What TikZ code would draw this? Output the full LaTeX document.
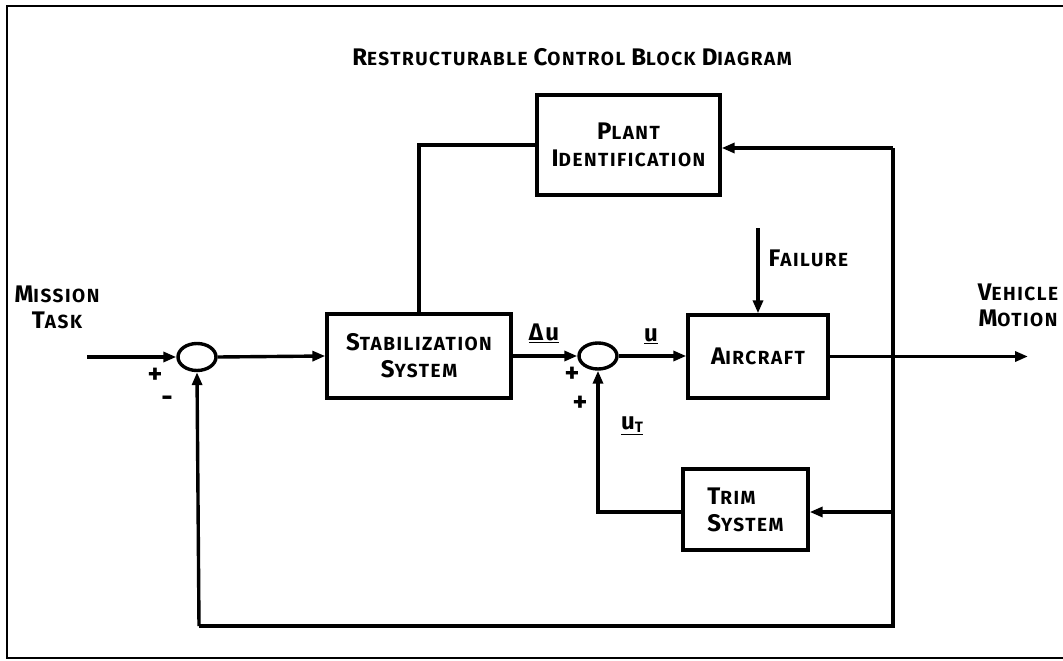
\documentclass[tikz,border=0pt]{standalone}
\usepackage{fontspec}
\newfontfamily\lf{Fira Sans}[LetterSpace=8]
\usetikzlibrary{arrows.meta,shapes.geometric}
\newcommand{\lc}[2]{{\fontsize{24}{24}\selectfont #1}{\fontsize{19}{19}\selectfont #2}}
\begin{document}
\begin{tikzpicture}[x=1pt,y=-1pt,
  line width=3.4pt,
  blk/.style={draw, rectangle, inner sep=0pt, font=\lf\bfseries\fontsize{19}{27}\selectfont, align=center},
  sumj/.style={draw, ellipse, inner sep=0pt, minimum width=38pt, minimum height=27pt},
  lbl/.style={font=\lf\bfseries\fontsize{19}{26}\selectfont, align=center, inner sep=0pt},
  sgn/.style={font=\lf\bfseries\fontsize{28}{28}\selectfont, inner sep=0pt},
  arr/.style={-{Triangle[length=13pt,width=10pt]}},
  frame/.style={line width=2.4pt}
]
\useasboundingbox (0,0) rectangle (1063,661);
% frame
\draw[frame] (1063,6) -- (7,6) -- (7,658) -- (1063,658);

% title
\node[lbl] (title) at (572,57) {\lc{R}{ESTRUCTURABLE} \lc{C}{ONTROL} \lc{B}{LOCK} \lc{D}{IAGRAM}};

% blocks
\node[blk, minimum width=183pt, minimum height=100pt] (plant) at (628.5,145) {\lc{P}{LANT}\\\lc{I}{DENTIFICATION}};
\node[blk, minimum width=184pt, minimum height=84pt] (stab) at (419,356) {\lc{S}{TABILIZATION}\\\lc{S}{YSTEM}};
\node[blk, minimum width=140pt, minimum height=83pt] (air) at (758,356.5) {\lc{A}{IRCRAFT}};
\node[blk, minimum width=125pt, minimum height=81pt, align=left] (trim) at (745.5,509.5) {\lc{T}{RIM}\\\lc{S}{YSTEM}};

% summing junctions
\node[sumj] (s1) at (197,357) {};
\node[sumj, minimum height=26pt] (s2) at (598,356) {};

% labels
\node[lbl] (mission) at (57,307) {\lc{M}{ISSION}\\\lc{T}{ASK}};
\node[lbl] (vehicle) at (1018,305) {\lc{V}{EHICLE}\\\lc{M}{OTION}};
\node[lbl, anchor=west] (failure) at (767,258) {\lc{F}{AILURE}};
\node[lbl] (du) at (544,333) {\fontsize{24}{24}\selectfont\underline{Δu}};
\node[lbl] (u) at (651,336) {\fontsize{24}{24}\selectfont\underline{u}};
\node[lbl] (ut) at (632,426) {\fontsize{24}{24}\selectfont\underline{u\raisebox{-3pt}{\fontsize{15}{15}\selectfont T}}};
\node[sgn] (p1) at (155,376) {+};
\node[sgn] (m1) at (167,401) {-};
\node[sgn] (p2) at (572,375) {+};
\node[sgn] (p3) at (580,404) {+};

% coordinates
\coordinate (in) at (87,357);
\coordinate (out) at (1028,356.5);
\coordinate (fail) at (758,228);
\coordinate (rt) at (893,148);
\coordinate (rb) at (893,626);
\coordinate (rtrim) at (893,512);
\coordinate (lb) at (199,626);

% connectors
\draw[arr] (in) -- (s1.west);
\draw[arr] (s1.east) -- (stab.west);
\draw[arr] (stab.east |- s2.west) -- (s2.west);
\draw[arr] (s2.east) -- (air.west |- s2.east);
\draw[arr] (air.east) -- (out);
\draw[arr] (fail) -- (air.north);
\draw (stab.north) |- (plant.west);
\draw[arr] (rt) -- (plant.east |- rt);
\draw (rt) -- (rb) -- (lb);
\draw[arr] (lb) -- (s1.south);
\draw[arr] (rtrim) -- (trim.east |- rtrim);
\draw[arr] (trim.west |- rtrim) -| (s2.south);
\end{tikzpicture}
\end{document}
